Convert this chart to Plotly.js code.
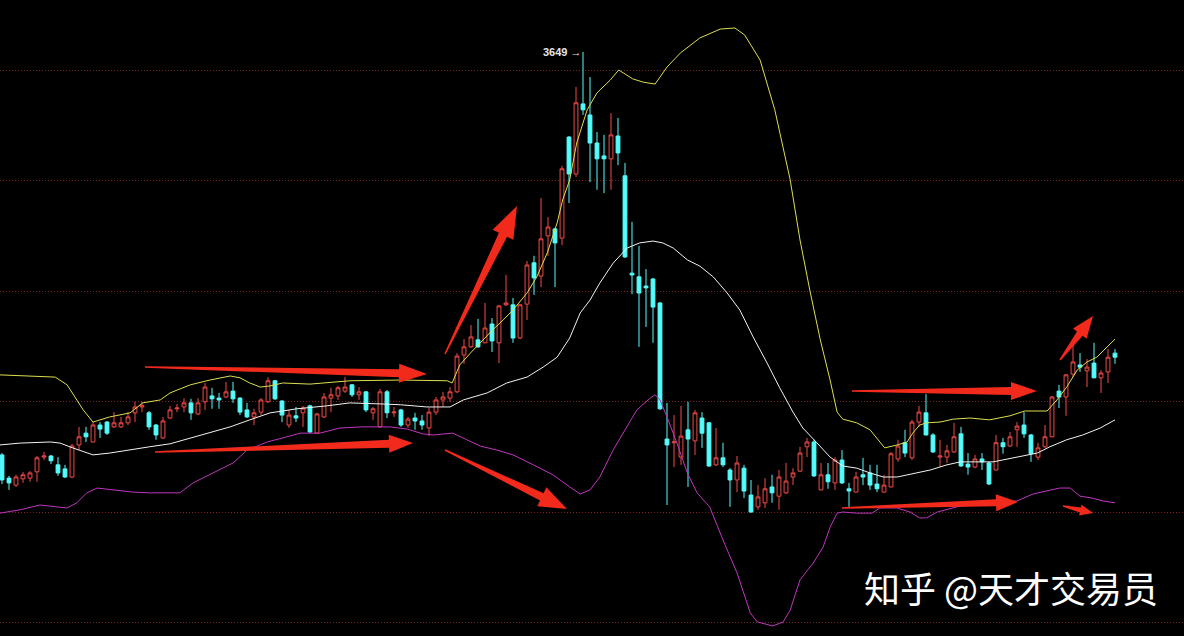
<!DOCTYPE html>
<html>
<head>
<meta charset="utf-8">
<script src="https://cdn.plot.ly/plotly-3.0.1.min.js"></script>
<style>html,body{margin:0;padding:0;background:#000;}#chart{width:1184px;height:636px;}</style>
</head>
<body>
<div id="chart"></div>
<script>
// ---- Candles (index 0..159) ----
const openP = [2556,2493,2474,2491,2493,2510,2550,2553,2529,2518,
2496,2583,2615,2591,2637,2645,2632,2632,2643,2670,
2686,2670,2637,2602,2656,2681,2686,2697,2667,2700,
2716,2710,2713,2729,2710,2678,2659,2672,2700,2757,
2702,2637,2662,2670,2689,2615,2659,2710,2716,2729,
2746,2719,2727,2670,2632,2727,2670,2678,2637,2656,
2648,2629,2672,2705,2710,2727,2827,2849,2868,2860,
2911,2860,2963,2963,2873,2965,3077,3041,3150,3169,
3144,3418,3318,3508,3478,3402,3367,3359,3421,3313,
3049,3039,3014,3033,2968,2599,2589,2550,2624,2594,
2656,2643,2529,2548,2515,2488,2520,2447,2415,2426,
2469,2444,2453,2496,2512,2578,2591,2461,2502,2480,
2542,2464,2455,2502,2507,2477,2455,2469,2545,2589,
2548,2645,2670,2610,2550,2550,2564,2613,2531,2523,
2545,2534,2515,2589,2580,2624,2637,2610,2550,2578,
2605,2729,2713,2775,2800,2784,2805,2765,2781,2832];
const highP = [2561,2499,2502,2510,2512,2553,2564,2556,2550,2529,
2586,2632,2632,2645,2645,2648,2672,2659,2672,2700,
2700,2675,2640,2659,2689,2694,2710,2708,2710,2751,
2738,2724,2754,2754,2713,2697,2681,2710,2767,2759,
2705,2678,2686,2689,2692,2670,2724,2738,2743,2767,
2748,2740,2729,2686,2735,2732,2686,2681,2659,2670,
2664,2683,2713,2727,2740,2832,2870,2908,2925,2968,
2927,2963,3044,2982,2965,3082,3096,3253,3201,3172,
3340,3421,3554,3649,3581,3432,3424,3483,3470,3348,
3188,3123,3060,3036,2971,2697,2664,2689,2700,2678,
2672,2645,2629,2589,2520,2553,2529,2488,2474,2493,
2502,2515,2534,2520,2578,2602,2597,2534,2534,2550,
2569,2480,2510,2548,2529,2529,2502,2564,2597,2624,
2651,2689,2721,2615,2597,2583,2643,2632,2561,2556,
2561,2537,2610,2602,2618,2645,2672,2613,2589,2637,
2716,2746,2775,2860,2832,2816,2860,2786,2843,2843];
const lowP = [2477,2461,2469,2480,2483,2483,2542,2531,2499,2493,
2493,2569,2591,2590,2602,2610,2629,2629,2637,2645,
2672,2624,2597,2599,2653,2672,2672,2651,2664,2678,
2681,2681,2710,2697,2664,2656,2637,2664,2697,2705,
2645,2629,2645,2632,2615,2613,2656,2672,2705,2724,
2713,2705,2672,2651,2630,2656,2659,2632,2629,2624,
2624,2607,2664,2686,2700,2724,2803,2846,2846,2859,
2835,2805,2960,2860,2870,2922,2990,3011,3096,3011,
3125,3239,3310,3478,3296,3275,3266,3275,3342,3090,
2992,2849,2903,2860,2678,2420,2523,2529,2469,2556,
2575,2523,2526,2523,2415,2455,2439,2399,2407,2412,
2426,2407,2450,2474,2510,2550,2496,2460,2464,2461,
2477,2415,2454,2474,2461,2455,2454,2468,2537,2550,
2542,2632,2609,2561,2523,2534,2561,2523,2502,2520,
2515,2474,2514,2559,2578,2578,2602,2537,2542,2575,
2604,2683,2662,2767,2781,2740,2764,2724,2751,2803];
const closeP = [2488,2480,2496,2502,2507,2548,2553,2540,2507,2496,
2580,2605,2605,2637,2626,2615,2643,2643,2659,2686,
2689,2632,2610,2648,2678,2683,2697,2670,2697,2740,
2708,2705,2727,2708,2672,2659,2670,2705,2757,2708,
2664,2664,2656,2683,2618,2667,2713,2719,2738,2740,
2719,2727,2678,2681,2727,2670,2672,2637,2653,2648,
2637,2672,2705,2713,2727,2824,2849,2876,2849,2900,
2865,2960,2968,2873,2963,3071,3036,3142,3174,3131,
3332,3318,3511,3492,3402,3359,3359,3424,3375,3093,
3044,2995,3009,2957,2681,2583,2591,2607,2599,2670,
2615,2526,2548,2529,2488,2534,2458,2401,2442,2464,
2453,2496,2485,2507,2561,2591,2499,2502,2483,2542,
2480,2458,2496,2496,2474,2464,2474,2559,2580,2561,
2645,2672,2610,2564,2553,2567,2605,2526,2523,2545,
2537,2477,2589,2578,2605,2634,2613,2559,2575,2605,
2713,2713,2773,2808,2794,2794,2765,2778,2821,2821];
const dayIdx = openP.map((_, i) => i);

// ---- Bollinger bands ----
const upperIdx = [-0.3,7.6,9.3,10.7,11.6,13,15.4,18.3,20.1,22.6,24,26.9,29.7,32.6,34,35.4,36.9,38.3,40.1,44,49.7,56.9,63.6,64.3,65.4,66.9,68.3,70.1,71.6,73,75,76.4,77.9,79.3,80.1,81.1,82.1,83.6,85,86.9,88.1,90.1,91.6,93.3,95,96.9,99.7,102.6,104.7,106.1,108.3,110.4,112.6,114,115.4,116.9,118.3,119.3,120.1,122.1,124,125.4,126.1,127.9,129.3,130.1,131.1,132.1,134,135.9,138.3,141.1,144,146.1,149.3,150.7,152.1,153.6,155,156.4,157.9,159];
const upperVal = [2773,2767,2746,2705,2678,2645,2659,2670,2697,2705,2724,2746,2759,2770,2765,2751,2740,2743,2751,2748,2757,2759,2757,2751,2800,2832,2860,2895,2922,2949,2995,3039,3104,3185,3248,3302,3402,3492,3538,3573,3600,3576,3567,3562,3608,3646,3687,3711,3714,3695,3627,3492,3302,3139,3003,2868,2759,2672,2653,2643,2624,2591,2575,2583,2591,2615,2637,2643,2645,2653,2656,2651,2662,2675,2675,2705,2740,2786,2808,2821,2849,2870];
const midIdx = [-0.3,2.6,6.9,8.3,10.1,13,15.4,17.9,20.1,21.1,24,26.9,29.7,32.6,35.4,38.3,40.1,42.1,46.4,49.7,54.4,56.9,60.7,64,65.9,69.3,72.1,75,77.3,79.3,81.1,82.6,84,85.4,87.3,89.3,91.1,93,94.4,95.9,97.9,99.7,101.6,103.6,105.4,107.3,109.3,111.1,113,114.4,116.4,118.3,120.1,122.1,124,125.9,127.9,130.1,132.6,135,136.9,141.6,145,147.9,149.7,152.1,154.4,156.9,159];
const midVal = [2583,2588,2591,2588,2575,2556,2561,2569,2575,2578,2586,2602,2618,2632,2651,2670,2675,2681,2689,2697,2694,2692,2686,2686,2705,2724,2751,2767,2794,2821,2873,2941,2976,3022,3076,3117,3131,3136,3131,3117,3085,3068,3039,2995,2949,2876,2805,2738,2672,2629,2589,2550,2526,2520,2507,2496,2496,2504,2515,2529,2537,2537,2550,2561,2578,2597,2610,2629,2651];
const lowerIdx = [-0.3,2.6,5.4,8.3,9.3,10.7,12.1,13.6,15.9,18.7,21.1,25.4,27.3,30.1,33,35,37.9,40.7,42.6,45.4,48.3,51.6,55.4,57.9,60.1,61.6,64.4,66.4,68.3,70.7,73,75.9,78.7,81.1,82.6,84,85.4,87.3,89.3,90.7,92.6,93.3,94,95,96.4,97.9,99.3,101.1,103,105,106.9,107.9,110.1,111.6,112.6,114,115.9,117.3,118.3,119.3,120.1,122.1,124.3,125.4,127.9,129.7,131.1,132.1,133.6,136.4,141.1,145,147.3,149.7,151.1,152.6,154,155.7,157.3,159];
const lowerVal = [2398,2407,2420,2415,2412,2426,2453,2466,2461,2455,2453,2453,2480,2507,2534,2569,2591,2605,2615,2615,2629,2632,2632,2626,2613,2610,2615,2597,2580,2569,2556,2529,2502,2469,2450,2461,2496,2569,2632,2678,2710,2719,2705,2659,2589,2507,2453,2415,2325,2236,2127,2103,2092,2103,2135,2217,2263,2306,2360,2398,2401,2398,2398,2412,2412,2401,2385,2385,2401,2415,2426,2431,2450,2461,2466,2466,2444,2439,2431,2426];

const gridLevels = [2100,2400,2700,3000,3300,3600];
const peakLabel = {idx: 83, value: 3649, text: '3649'};
const watermark = '知乎 @天才交易员';

// hand-drawn red arrows, in picture pixels: tailX, tailY, tipX, tipY, tailW, shaftW, headW, headL
const arrows = [
  [145,367,427,374, 1.5, 8, 19, 28],
  [155,452,413,443, 1.5, 8, 18, 24],
  [445,354,517,206, 1.5, 9, 23, 32],
  [445,450,567,509, 1.5, 8, 21, 28],
  [852,391,1037,391, 1.5, 8, 18, 26],
  [842,508,1018,502, 1.5, 7, 17, 22],
  [1060,360,1093,316, 1.5, 7, 17, 22],
  [1063,506,1093,513, 1.5, 5, 11, 13]
];

const W = 1184, H = 636;
function arrowPath(a) {
  const [x1,y1,x2,y2,tw,sw,hw,hl] = a;
  const dx = x2-x1, dy = y2-y1, L = Math.hypot(dx,dy);
  const ux = dx/L, uy = dy/L, nx = -uy, ny = ux;
  const bx = x2-ux*hl, by = y2-uy*hl;
  const pts = [
    [x1+nx*tw/2, y1+ny*tw/2],
    [bx+nx*sw/2, by+ny*sw/2],
    [bx+nx*hw/2, by+ny*hw/2],
    [x2, y2],
    [bx-nx*hw/2, by-ny*hw/2],
    [bx-nx*sw/2, by-ny*sw/2],
    [x1-nx*tw/2, y1-ny*tw/2]
  ];
  return 'M' + pts.map(p => (p[0]/W).toFixed(5) + ',' + (1-p[1]/H).toFixed(5)).join(' L') + ' Z';
}

const traces = [
  {
    type: 'candlestick', x: dayIdx, open: openP, high: highP, low: lowP, close: closeP,
    increasing: {line: {color: '#f04a46', width: 1}, fillcolor: '#000000'},
    decreasing: {line: {color: '#54fcfc', width: 1}, fillcolor: '#54fcfc'},
    whiskerwidth: 0, hoverinfo: 'skip'
  },
  {type: 'scatter', mode: 'lines', x: upperIdx, y: upperVal, line: {color: '#dede50', width: 1}, hoverinfo: 'skip'},
  {type: 'scatter', mode: 'lines', x: midIdx, y: midVal, line: {color: '#f2f2f2', width: 1}, hoverinfo: 'skip'},
  {type: 'scatter', mode: 'lines', x: lowerIdx, y: lowerVal, line: {color: '#bf36bf', width: 1}, hoverinfo: 'skip'}
];

const layout = {
  width: W, height: H,
  margin: {l: 0, r: 0, t: 0, b: 0, pad: 0},
  paper_bgcolor: '#000000', plot_bgcolor: '#000000',
  showlegend: false,
  boxgap: 0.22,
  xaxis: {range: [-0.286, 168.857], showgrid: false, zeroline: false, showticklabels: false,
          ticks: '', showline: false, rangeslider: {visible: false}, fixedrange: true},
  yaxis: {range: [2064.7, 3789.9], showgrid: true, gridcolor: '#7c2222', griddash: '1px,2px', gridwidth: 1,
          tickmode: 'array', tickvals: gridLevels, showticklabels: false, ticks: '',
          zeroline: false, showline: false, fixedrange: true},
  shapes: arrows.map(a => ({type: 'path', xref: 'paper', yref: 'paper', path: arrowPath(a),
                            fillcolor: '#f22a1c', line: {width: 0}, layer: 'above'})),
  annotations: [
    {x: peakLabel.idx, y: peakLabel.value, xref: 'x', yref: 'y', text: '<b>' + peakLabel.text + '</b> →',
     showarrow: false, xanchor: 'right', yanchor: 'middle', xshift: 1,
     font: {family: 'Liberation Sans, Arial, sans-serif', size: 11, color: '#e6e6e6'}},
    {x: 862/W, y: 1-587/H, xref: 'paper', yref: 'paper', text: watermark, showarrow: false,
     xanchor: 'left', yanchor: 'middle',
     font: {family: 'Noto Sans CJK SC, sans-serif', size: 36, color: '#ffffff'}}
  ]
};

Plotly.newPlot('chart', traces, layout, {displayModeBar: false, staticPlot: true});
</script>
</body>
</html>
